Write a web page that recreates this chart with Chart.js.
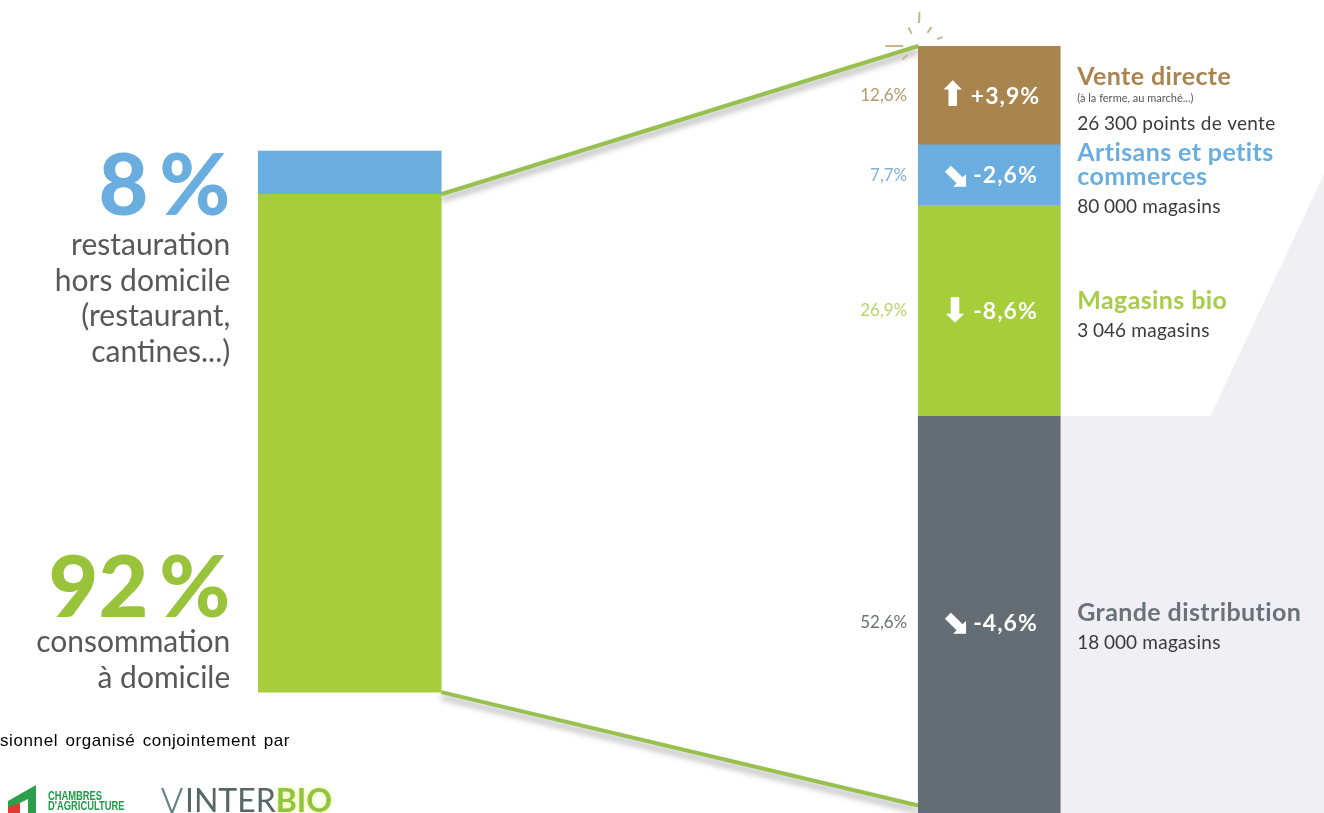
<!DOCTYPE html>
<html lang="fr">
<head>
<meta charset="utf-8">
<title>Consommation bio : lieux et circuits de distribution</title>
<script src="https://cdn.jsdelivr.net/npm/chart.js@4.4.1/dist/chart.umd.min.js"></script>
<style>
  html, body { margin:0; padding:0; background:#fff; overflow:hidden; }
  body { width:1324px; height:813px; position:relative; }
  #wrap { position:absolute; left:0; top:0; width:1324px; height:860px; }
  .credit { position:absolute; left:0; top:731px; font:17px "Liberation Sans", Arial, sans-serif; color:#000; white-space:nowrap; letter-spacing:0.6px; word-spacing:2px; }
  .ca { position:absolute; left:6px; top:781px; width:140px; height:40px; }
  .ca svg { position:absolute; left:0; top:2px; }
  .ca .t { position:absolute; left:42px; top:10px; font:bold 12px/10px "Liberation Sans", sans-serif; color:#1f9a48; transform:scaleX(0.78); transform-origin:0 0; }
  .ib { position:absolute; left:160px; top:780px; font:32px/40px Lato, sans-serif; color:#566767; white-space:nowrap; }
  .ib .v { color:#5f8683; letter-spacing:-5px; margin-right:6px; }
  .ib b { color:#8dc63f; text-shadow:0 0 5px #f3f08a; }
</style>
</head>
<body>
<div id="wrap"><canvas id="chartBio" width="1324" height="860"></canvas></div>
<div class="credit">sionnel organisé conjointement par</div>
<div class="ca">
  <svg width="36" height="34" viewBox="0 0 36 34">
    <path d="M2 30 L2 18 L30 2 L30 34 L22 34 L22 16 L10 22 L10 34 Z" fill="#2aa04a"/>
    <path d="M2 24 L14 20 L14 34 L2 34 Z" fill="#e03a32"/>
  </svg>
  <div class="t">CHAMBRES<br>D'AGRICULTURE</div>
</div>
<div class="ib"><span class="v">\/</span>INTER<b>BIO</b></div>
<script>
// where organic food is eaten
const categories = ['Lieu de consommation', 'Circuits de distribution'];
const placeLines = [['consommation', 'à domicile'], ['restauration', 'hors domicile', '(restaurant,', 'cantines...)']];
const placeShares = [92, 8];

// how home consumption is bought (share %, change %, outlets)
const channelTitles = [['Grande distribution'], ['Magasins bio'], ['Artisans et petits', 'commerces'], ['Vente directe']];
const channelNotes = ['', '', '', '(à la ferme, au marché...)'];
const channelShares = [52.6, 26.9, 7.7, 12.6];
const channelChanges = [-4.6, -8.6, -2.6, 3.9];
const channelArrows = ['\u2B0A', '\u2B07', '\u2B0A', '\u2B06'];
const channelOutlets = ['18\u202F000 magasins', '3\u202F046 magasins', '80\u202F000 magasins', '26\u202F300 points de vente'];

const placeColors = ['#a6cd3a', '#6aaee0'];
const placeTextColors = ['#9ac33c', '#6aaee0'];
const channelColors = ['#656d74', '#a6cd3a', '#6aaee0', '#a8844e'];
const channelTextColors = ['#6a7177', '#a8cc4a', '#6aaee0', '#a8844e'];
const channelPctColors = ['#6a7177', '#b8d46c', '#7fb3dd', '#b39a6d'];

const fr = (v, sign) => (sign && v > 0 ? '+' : '') + v.toFixed(1).replace('.', ',') + '%';
const channelTotal = channelShares.reduce((a, b) => a + b, 0);
const connectorBottom = 3; // where the lower guide line meets the right bar

const datasets = [];
placeShares.forEach((v, i) => datasets.push({
  label: placeLines[i].join(' '), data: [v, null], backgroundColor: placeColors[i],
  yAxisID: 'yPlace', barThickness: 183, side: 'place', idx: i
}));
channelShares.forEach((v, i) => datasets.push({
  label: channelTitles[i].join(' '), data: [null, v], backgroundColor: channelColors[i],
  yAxisID: 'yChannel', barThickness: 142, side: 'channel', idx: i
}));

const barOf = (chart, side, i) => {
  const di = chart.data.datasets.findIndex(d => d.side === side && d.idx === i);
  return chart.getDatasetMeta(di).data[side === 'place' ? 0 : 1];
};

const decor = {
  id: 'decor',
  beforeDatasetsDraw(chart) {
    const ctx = chart.ctx;
    const pl = barOf(chart, 'place', 0), ch = barOf(chart, 'channel', 0);
    const plRight = pl.x + pl.width / 2, chLeft = ch.x - ch.width / 2, chRight = ch.x + ch.width / 2;
    const yP = chart.scales.yPlace, yC = chart.scales.yChannel;

    // grey backdrop behind the supermarket block
    const gy = ch.y;
    ctx.save();
    ctx.fillStyle = '#f0f0f4';
    ctx.beginPath();
    ctx.moveTo(chRight, gy);
    ctx.lineTo(chRight + 150, gy);
    ctx.lineTo(chart.width, gy - 242);
    ctx.lineTo(chart.width, chart.height);
    ctx.lineTo(chRight, chart.height);
    ctx.closePath();
    ctx.fill();
    ctx.restore();

    // guide lines from the home share to the channel bar
    const lines = [
      [plRight, yP.getPixelForValue(placeShares[0]), chLeft, yC.getPixelForValue(channelTotal)],
      [plRight, yP.getPixelForValue(0), chLeft, yC.getPixelForValue(connectorBottom)]
    ];
    ctx.save();
    ctx.strokeStyle = '#97c04e';
    ctx.lineWidth = 4;
    ctx.shadowColor = 'rgba(0,0,0,0.35)';
    ctx.shadowBlur = 6;
    ctx.shadowOffsetY = 5;
    lines.forEach(l => { ctx.beginPath(); ctx.moveTo(l[0], l[1]); ctx.lineTo(l[2], l[3]); ctx.stroke(); });
    ctx.restore();
  },
  afterDatasetsDraw(chart) {
    const ctx = chart.ctx;
    ctx.save();

    // left side labels
    const home = barOf(chart, 'place', 0), away = barOf(chart, 'place', 1);
    const lx = home.x - home.width / 2 - 28;
    ctx.textAlign = 'right';
    ctx.textBaseline = 'alphabetic';
    ctx.fillStyle = placeTextColors[1];
    ctx.font = '900 86px Lato';
    ctx.fillText(String(placeShares[1]) + '\u2009%', lx, away.y + 64);
    ctx.font = '30px Lato';
    ctx.fillStyle = '#585858';
    placeLines[1].forEach((t, k) => ctx.fillText(t, lx, away.y + 104 + k * 35.7));
    ctx.fillStyle = placeTextColors[0];
    ctx.font = '900 86px Lato';
    ctx.fillText(String(placeShares[0]) + '\u2009%', lx, home.base - 75);
    ctx.font = '30px Lato';
    ctx.fillStyle = '#585858';
    placeLines[0].forEach((t, k) => ctx.fillText(t, lx, home.base - 40 + k * 36));

    // channel bar labels
    channelShares.forEach((v, i) => {
      const b = barOf(chart, 'channel', i);
      const cy = (b.y + b.base) / 2;
      const left = b.x - b.width / 2, right = b.x + b.width / 2;
      ctx.textBaseline = 'middle';

      ctx.textAlign = 'right';
      ctx.font = '17px Lato';
      ctx.fillStyle = channelPctColors[i];
      ctx.fillText(fr(v), left - 11, cy);

      // change inside the bar
      ctx.textAlign = 'left';
      ctx.fillStyle = '#fff';
      const arrowFont = 'bold 34px "DejaVu Sans"';
      ctx.font = arrowFont;
      const arrow = channelArrows[i];
      const aw = ctx.measureText(arrow).width;
      ctx.font = 'bold 23px Lato';
      ctx.letterSpacing = '1px';
      const txt = fr(channelChanges[i], true);
      const tw = ctx.measureText(txt).width;
      const sx = b.x - (aw + 4 + tw) / 2;
      ctx.fillText(txt, sx + aw + 4, cy + 1);
      ctx.letterSpacing = '0px';
      ctx.font = arrowFont;
      ctx.fillText(arrow, sx, cy + 2);

      // description on the right
      const rows = [];
      channelTitles[i].forEach((t, k) => rows.push({ t, font: 'bold 25px Lato', ls: '0.4px', color: channelTextColors[i], step: k ? 24 : 0 }));
      if (channelNotes[i]) rows.push({ t: channelNotes[i], font: '11px Lato', ls: '0px', color: '#555', step: 21 });
      rows.push({ t: channelOutlets[i], font: '19px Lato', ls: '0.3px', color: '#3a3a3a', step: channelNotes[i] ? 25 : 30 });
      let acc = 0;
      rows.forEach(r => { acc += r.step; r.off = acc; });
      const y0 = cy + 5 - acc / 2;
      rows.forEach(r => {
        ctx.font = r.font;
        ctx.letterSpacing = r.ls;
        ctx.fillStyle = r.color;
        ctx.fillText(r.t, right + 17, y0 + r.off);
      });
      ctx.letterSpacing = '0px';
    });

    // little sparkle where the top guide line lands
    const top = barOf(chart, 'channel', 3);
    const cx = top.x - top.width / 2, cyy = top.y;
    const rays = [[-88, 23, 34], [-118, 14, 21], [-55, 16, 23], [180, 15, 33], [-20, 20, 26], [140, 14, 21]];
    ctx.strokeStyle = '#c9b48e';
    ctx.lineWidth = 2;
    rays.forEach(([a, r1, r2]) => {
      const rad = a * Math.PI / 180;
      ctx.beginPath();
      ctx.moveTo(cx + Math.cos(rad) * r1, cyy + Math.sin(rad) * r1);
      ctx.lineTo(cx + Math.cos(rad) * r2, cyy + Math.sin(rad) * r2);
      ctx.stroke();
    });
    ctx.restore();
  }
};

new Chart(document.getElementById('chartBio'), {
  type: 'bar',
  data: { labels: categories, datasets },
  options: {
    responsive: false,
    animation: false,
    devicePixelRatio: 1,
    layout: { padding: { left: 30, right: 15, top: 46, bottom: 31 } },
    plugins: { legend: { display: false }, tooltip: { enabled: false } },
    scales: {
      x: { stacked: true, display: false },
      yPlace: { stacked: true, display: false, min: -25.3, max: 119.4 },
      yChannel: { stacked: true, display: false, position: 'right', min: 0, max: channelTotal }
    }
  },
  plugins: [decor]
});
</script>
</body>
</html>
